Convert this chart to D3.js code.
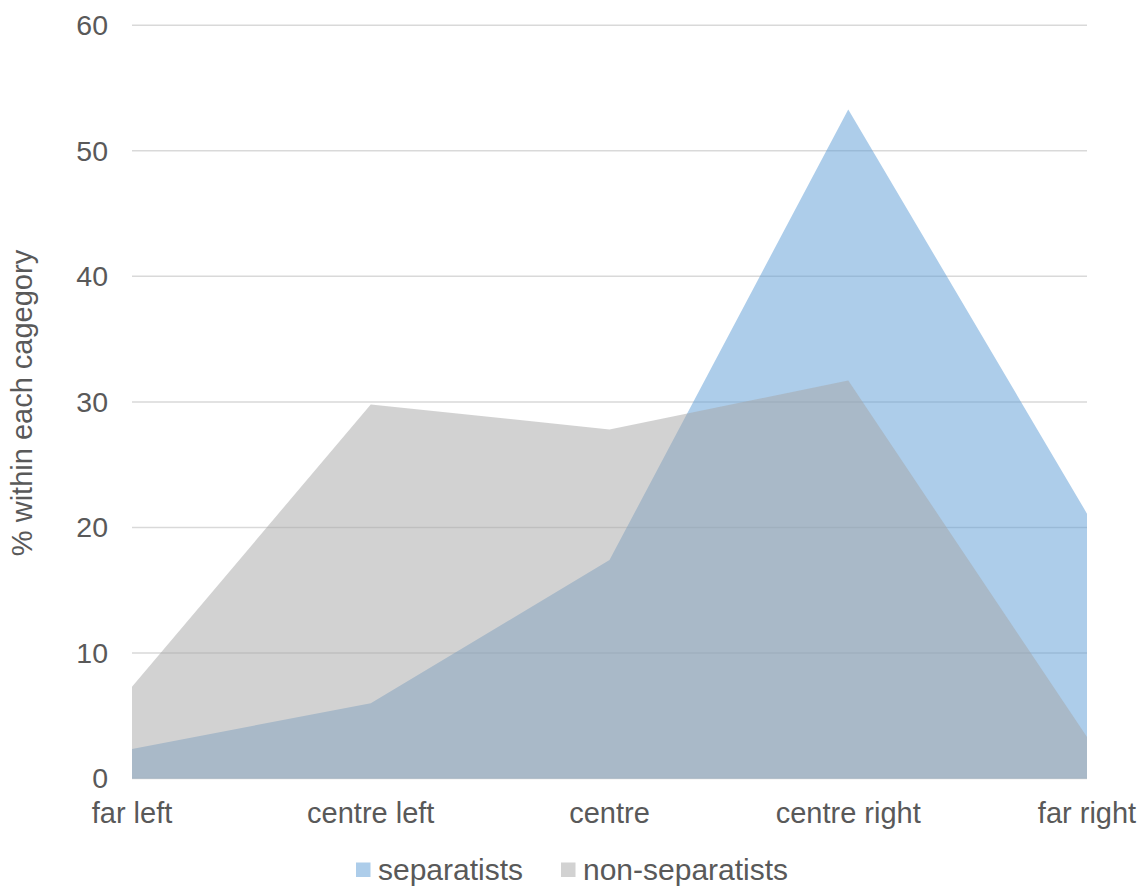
<!DOCTYPE html>
<html>
<head>
<meta charset="utf-8">
<script src="https://cdn.jsdelivr.net/npm/d3@7"></script>
<style>
  html, body { margin: 0; padding: 0; background: #ffffff; }
  svg { display: block; }
  text { font-family: "Liberation Sans", Arial, sans-serif; fill: #595959; }
</style>
</head>
<body>
<svg id="chart" width="1146" height="888"></svg>
<script>
// Political self-placement, % within each category
const categories = ["far left", "centre left", "centre", "centre right", "far right"];
const separatists = [2.35, 6.0, 17.4, 53.3, 21.1];
const nonSeparatists = [7.3, 29.8, 27.8, 31.7, 3.3];
const yTicks = [0, 10, 20, 30, 40, 50, 60];
const seriesNames = ["separatists", "non-separatists"];
const seriesColors = ["#5B9BD5", "#A5A5A5"];

const svg = d3.select("#chart");
const margin = { left: 132, right: 1146 - 1087, top: 25.3, bottom: 888 - 778.5 };
const width = 1146, height = 888;

const x = d3.scalePoint()
  .domain(categories)
  .range([margin.left, width - margin.right]);

const y = d3.scaleLinear()
  .domain([0, 60])
  .range([height - margin.bottom, margin.top]);

// horizontal gridlines
svg.append("g")
  .selectAll("line")
  .data(yTicks)
  .join("line")
  .attr("x1", margin.left)
  .attr("x2", width - margin.right)
  .attr("y1", d => y(d))
  .attr("y2", d => y(d))
  .attr("stroke", "#d9d9d9")
  .attr("stroke-width", 1.5);

// y tick labels
svg.append("g")
  .selectAll("text")
  .data(yTicks)
  .join("text")
  .attr("x", 108)
  .attr("y", d => y(d))
  .attr("dy", "0.35em")
  .attr("text-anchor", "end")
  .style("font-size", "28.5px")
  .text(d => d);

// areas
const area = d3.area()
  .x((d, i) => x(categories[i]))
  .y0(y(0))
  .y1(d => y(d));

[separatists, nonSeparatists].forEach((vals, k) => {
  svg.append("path")
    .datum(vals)
    .attr("d", area)
    .attr("fill", seriesColors[k])
    .attr("fill-opacity", 0.5);
});

// category labels
svg.append("g")
  .selectAll("text")
  .data(categories)
  .join("text")
  .attr("x", d => x(d))
  .attr("y", 823)
  .attr("text-anchor", "middle")
  .style("font-size", "29px")
  .text(d => d);

// y-axis title
svg.append("text")
  .attr("transform", "translate(32,403) rotate(-90)")
  .attr("text-anchor", "middle")
  .style("font-size", "29px")
  .text("% within each cagegory");

// legend
const legendX = [356, 561];
const lg = svg.append("g");
seriesNames.forEach((name, k) => {
  lg.append("rect")
    .attr("x", legendX[k])
    .attr("y", 862.5)
    .attr("width", 14.5)
    .attr("height", 14.5)
    .attr("fill", seriesColors[k])
    .attr("fill-opacity", 0.5);
  lg.append("text")
    .attr("x", legendX[k] + 22)
    .attr("y", 880)
    .style("font-size", "30px")
    .text(name);
});
</script>
</body>
</html>
